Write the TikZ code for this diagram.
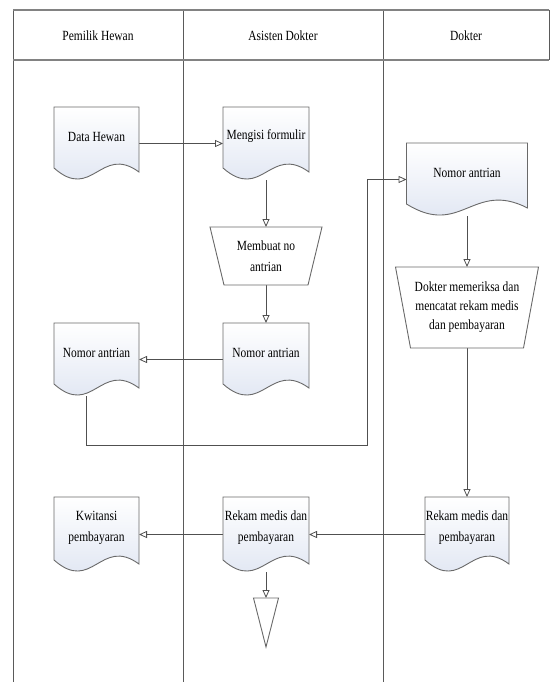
\documentclass[tikz,border=0pt]{standalone}
\usepackage{fontspec}
\setmainfont{Liberation Serif}[FakeStretch=0.82]
\usetikzlibrary{arrows.meta,calc}
\pgfdeclarelayer{bg}
\pgfsetlayers{bg,main}
\definecolor{lanegray}{RGB}{90,90,90}
\definecolor{hdrgray}{RGB}{130,130,130}
\definecolor{shapegray}{RGB}{105,105,105}
\definecolor{conngray}{RGB}{80,80,80}
\definecolor{docblue}{RGB}{218,225,240}
\newcommand\docshape[1]{%
  \path[docfill] (#1.north west) -- (#1.north east) -- ($(#1.south east)+(0,-8)$)
    .. controls ($(#1.south west)!0.55!(#1.south east)+(0,-36)$) and ($(#1.south west)!0.45!(#1.south east)+(0,22)$)
    .. ($(#1.south west)+(0,-12)$) -- cycle;}
\newcommand\trapshape[2]{%
  \path[trapfill] (#1.north west) -- (#1.north east) -- ($(#1.south east)+(-#2,0)$) -- ($(#1.south west)+(#2,0)$) -- cycle;}
\begin{document}
\begin{tikzpicture}[x=1pt,y=-1pt,
  font=\fontsize{14}{21}\selectfont,
  box/.style={rectangle,inner sep=0pt,outer sep=0pt},
  lane/.style={draw=lanegray,line width=0.8pt},
  hdr/.style={draw=hdrgray,line width=2pt},
  docfill/.style={draw=shapegray,line width=0.9pt,top color=white,bottom color=docblue},
  trapfill/.style={draw=shapegray,line width=0.9pt,fill=white},
  conn/.style={draw=conngray,line width=0.8pt,-{Triangle[open,length=8pt,width=7pt]}},
  txt/.style={align=center,yshift=7pt}]
\useasboundingbox (0,0) rectangle (550,682);
% lanes
\begin{pgfonlayer}{bg}
\draw[lane] (13,10) -- (13,682);
\draw[lane] (183,10) -- (183,682);
\draw[lane] (383,10) -- (383,682);
\draw[lane] (549,10) -- (549,60);
\draw[hdr] (13,10) -- (549,10);
\draw[hdr] (13,60) -- (549,60);
\end{pgfonlayer}
\node (h1) at (98,36) {Pemilik Hewan};
\node (h2) at (283,36) {Asisten Dokter};
\node (h3) at (466,36) {Dokter};
% shape frames
\node[box,minimum width=85,minimum height=73] (dh) at (96.5,143.5) {};
\node[box,minimum width=86,minimum height=73] (mf) at (266,143.5) {};
\node[box,minimum width=112,minimum height=58] (mb) at (266,256) {};
\node[box,minimum width=86,minimum height=73] (na2) at (266,359.5) {};
\node[box,minimum width=85,minimum height=73] (na1) at (96.5,359.5) {};
\node[box,minimum width=121,minimum height=73] (na3) at (467,179.5) {};
\node[box,minimum width=143,minimum height=81] (dt) at (467,307.5) {};
\node[box,minimum width=84,minimum height=75] (rm3) at (467,534.5) {};
\node[box,minimum width=86,minimum height=75] (rm2) at (266,534.5) {};
\node[box,minimum width=85,minimum height=75] (kw) at (96.5,534.5) {};
\node[box,minimum width=25,minimum height=49] (tri) at (266,622.5) {};
\coordinate (c1) at (367,445);
% connectors
\begin{pgfonlayer}{bg}
\draw[conn] (dh.east) -- (mf.west);
\draw[conn] (mf.south) -- (mb.north);
\draw[conn] (mb.south) -- (na2.north);
\draw[conn] (na2.west) -- (na1.east);
\draw[conn] ([xshift=-10pt]na1.south) |- (c1) |- (na3.west);
\draw[conn] (na3.south) -- (dt.north);
\draw[conn] (dt.south) -- (rm3.north);
\draw[conn] (rm3.west) -- (rm2.east);
\draw[conn] (rm2.west) -- (kw.east);
\draw[conn] (rm2.south) -- (tri.north);
\end{pgfonlayer}
% shapes
\docshape{dh}
\docshape{mf}
\docshape{na2}
\docshape{na1}
\docshape{na3}
\docshape{rm3}
\docshape{rm2}
\docshape{kw}
\trapshape{mb}{14}
\trapshape{dt}{15}
\path[trapfill] (tri.north west) -- (tri.north east) -- (tri.south) -- cycle;
% texts
\node[txt] (dht) at (dh.center) {Data Hewan};
\node[txt] (mft) at (mf.center) {Mengisi formulir};
\node[txt] (na2t) at (na2.center) {Nomor antrian};
\node[txt] (na1t) at (na1.center) {Nomor antrian};
\node[txt] (na3t) at (na3.center) {Nomor antrian};
\node[txt] (rm3t) at (rm3.center) {Rekam medis dan\\pembayaran};
\node[txt] (rm2t) at (rm2.center) {Rekam medis dan\\pembayaran};
\node[txt] (kwt) at (kw.center) {Kwitansi\\pembayaran};
\node[align=center] (mbt) at (mb.center) {Membuat no\\antrian};
\node[align=center,font=\fontsize{14}{19}\selectfont] (dtt) at (dt.center) {Dokter memeriksa dan\\mencatat rekam medis\\dan pembayaran};
\end{tikzpicture}
\end{document}
